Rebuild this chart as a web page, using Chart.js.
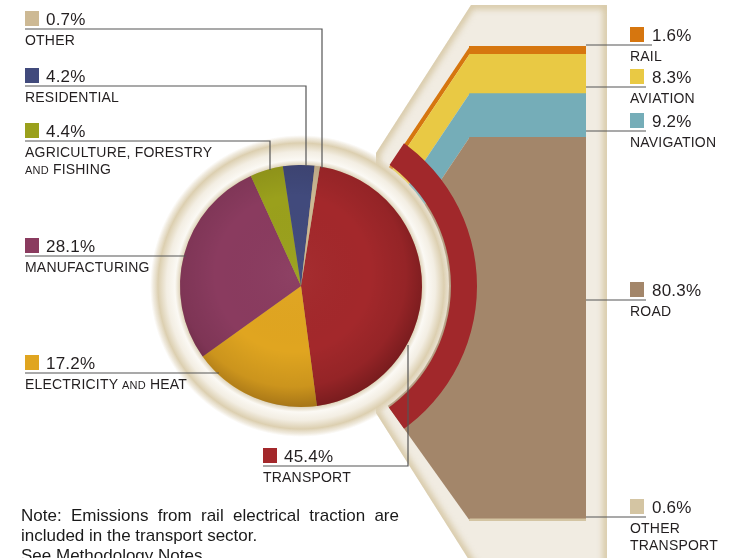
<!DOCTYPE html>
<html>
<head>
<meta charset="utf-8">
<script src="https://cdn.jsdelivr.net/npm/chart.js@4.4.0/dist/chart.umd.min.js"></script>
<style>
  body { margin: 0; background: #fff; }
  #wrap { position: relative; width: 733px; height: 558px; overflow: hidden; font-family: "Liberation Sans", Arial, sans-serif; color: #231f20; }
  canvas { position: absolute; left: 0; top: 0; }
  .lab { position: absolute; }
  .sw { position: absolute; left: 0; top: 0; width: 14px; height: 15px; }
  .pct { position: absolute; top: -0.5px; font-size: 17px; line-height: 17px; white-space: nowrap; letter-spacing: 0.2px; }
  .name { position: absolute; left: 0; top: 21px; font-size: 14px; line-height: 17px; white-space: nowrap; letter-spacing: 0.2px; }
  .name small { font-size: 11px; }
  .note { position: absolute; left: 21px; top: 506px; width: 378px; font-size: 17px; line-height: 20px; text-align: justify; color: #1a1a1a; }
</style>
</head>
<body>
<div id="wrap">
  <canvas id="bars" width="733" height="558"></canvas>
  <canvas id="pie" width="733" height="558"></canvas>
  <div id="labels"></div>
  <div class="note">Note: Emissions from rail electrical traction are included in the transport sector.<br>See Methodology Notes.</div>
</div>
<script>
// shares of CO2 emissions by sector, pie starts with transport and goes clockwise
const sectors = ['Transport', 'Electricity and heat', 'Manufacturing', 'Agriculture, forestry|and fishing', 'Residential', 'Other'];
const sectorShares = [45.4, 17.2, 28.1, 4.4, 4.2, 0.7];
const sectorColors = ['#a3282b', '#e0a520', '#8a3b5f', '#9aa01c', '#414a7c', '#cdb994'];

// breakdown of the transport sector, top to bottom
const transportModes = ['Rail', 'Aviation', 'Navigation', 'Road', 'Other|transport'];
const transportShares = [1.6, 8.3, 9.2, 80.3, 0.6];
const transportColors = ['#d6760f', '#e9c944', '#75adb8', '#a3866a', '#d4c5a3'];

// where things sit on the page
const PIE = { x: 301, y: 286, r: 121 };
const BAR = { left: 469, top: 46, right: 586, bottom: 521 };
const W = 733, H = 558;

// label layout: x, square top, leader line end x (or start x on the right), vertical end y
const sectorLabelPos = [
  { x: 263, t: 448, hx: 408, vy: 345 },
  { x: 25, t: 355, hx: 219 },
  { x: 25, t: 238, hx: 186 },
  { x: 25, t: 123, hx: 270, vy: 170 },
  { x: 25, t: 68, hx: 306, vy: 166 },
  { x: 25, t: 11, hx: 322, vy: 168 }
];
const modeLabelPos = [
  { x: 630, t: 27, lx: 652 },
  { x: 630, t: 69, lx: 646 },
  { x: 630, t: 113, lx: 646 },
  { x: 630, t: 282, lx: 646 },
  { x: 630, t: 499, lx: 646 }
];

function framePath(ctx, a) {
  ctx.beginPath();
  ctx.moveTo(a.left + 2, a.top - 41);
  ctx.lineTo(a.right + 21, a.top - 41);
  ctx.lineTo(a.right + 21, a.bottom + 80);
  ctx.lineTo(a.left + 26, a.bottom + 80);
  ctx.lineTo(a.left - 93, a.bottom - 108);
  ctx.lineTo(a.left - 93, a.top + 107);
  ctx.closePath();
}

function innerPath(ctx, a) {
  ctx.beginPath();
  ctx.moveTo(a.left, a.top);
  ctx.lineTo(a.right, a.top);
  ctx.lineTo(a.right, a.bottom);
  ctx.lineTo(a.left + 1, a.bottom);
  ctx.lineTo(a.left - 149, a.bottom - 210);
  ctx.lineTo(a.left - 149, a.top + 223);
  ctx.closePath();
}

// frame behind the transport bar + the slanted part of each band
const bandPlugin = {
  id: 'bands',
  beforeDatasetsDraw(chart) {
    const ctx = chart.ctx, a = chart.chartArea;
    ctx.save();
    framePath(ctx, a);
    ctx.fillStyle = '#f1ece2';
    ctx.fill();
    ctx.clip();
    ctx.filter = 'blur(3px)';
    framePath(ctx, a);
    ctx.lineWidth = 8;
    ctx.strokeStyle = '#d6c7a4';
    ctx.stroke();
    ctx.restore();
  },
  afterDatasetsDraw(chart) {
    const ctx = chart.ctx, a = chart.chartArea;
    ctx.save();
    innerPath(ctx, a);
    ctx.clip();
    ctx.beginPath();
    ctx.rect(0, 0, chart.width, chart.height);
    ctx.arc(PIE.x, PIE.y, 148, 0, Math.PI * 2);
    ctx.clip('evenodd');
    chart.data.datasets.forEach((ds, i) => {
      const bar = chart.getDatasetMeta(i).data[0];
      const top = Math.min(bar.y, bar.base), bot = Math.max(bar.y, bar.base);
      const left = bar.x - bar.width / 2;
      ctx.fillStyle = ds.backgroundColor;
      ctx.beginPath();
      ctx.moveTo(left + 1, top);
      ctx.lineTo(left - 200, top + 300);
      ctx.lineTo(left - 200, bot + 300);
      ctx.lineTo(left + 1, bot);
      ctx.closePath();
      ctx.fill();
    });
    ctx.restore();
  }
};

new Chart(document.getElementById('bars'), {
  type: 'bar',
  data: {
    labels: ['Transport'],
    datasets: transportModes.map((m, i) => ({
      label: m.replace('|', ' '),
      data: [transportShares[i]],
      backgroundColor: transportColors[i],
      borderWidth: 0,
      barPercentage: 1,
      categoryPercentage: 1
    }))
  },
  options: {
    responsive: false,
    devicePixelRatio: 1,
    animation: false,
    events: [],
    layout: { padding: { left: BAR.left, top: BAR.top, right: W - BAR.right, bottom: H - BAR.bottom } },
    scales: {
      x: { display: false, stacked: true },
      y: { display: false, stacked: true, min: 0, max: 100, reverse: true }
    },
    plugins: { legend: { display: false }, tooltip: { enabled: false } }
  },
  plugins: [bandPlugin]
});

// halo round the pie, shading on the slices, clip of the transport arc, leader lines
const piePlugin = {
  id: 'pieDeco',
  beforeDatasetsDraw(chart) {
    const ctx = chart.ctx;
    const arc = chart.getDatasetMeta(2).data[0];
    const cx = arc.x, cy = arc.y, r = arc.outerRadius;
    const g = ctx.createRadialGradient(cx, cy, r - 2, cx, cy, r + 30);
    g.addColorStop(0, '#a8966e');
    g.addColorStop(0.08, '#e2d8c1');
    g.addColorStop(0.22, '#fbf9f4');
    g.addColorStop(0.48, '#f3eee3');
    g.addColorStop(0.75, '#dccfb0');
    g.addColorStop(0.9, 'rgba(225,214,190,0.5)');
    g.addColorStop(1, 'rgba(230,220,200,0)');
    ctx.save();
    ctx.fillStyle = g;
    ctx.beginPath();
    ctx.arc(cx, cy, r + 30, 0, Math.PI * 2);
    ctx.fill();
    ctx.restore();
  },
  beforeDatasetDraw(chart, args) {
    if (args.index === 0) {
      chart.ctx.save();
      innerPath(chart.ctx, BAR);
      chart.ctx.clip();
    }
  },
  afterDatasetDraw(chart, args) {
    const ctx = chart.ctx;
    if (args.index === 0) ctx.restore();
    if (args.index === 2) {
      const arc = chart.getDatasetMeta(2).data[0];
      const cx = arc.x, cy = arc.y, r = arc.outerRadius;
      const gx = cx - 8, gy = cy - 12;
      const g = ctx.createRadialGradient(gx, gy, 0, gx, gy, r + 20);
      g.addColorStop(0, 'rgba(255,255,255,0.03)');
      g.addColorStop(0.55, 'rgba(0,0,0,0)');
      g.addColorStop(0.8, 'rgba(25,0,0,0.1)');
      g.addColorStop(1, 'rgba(25,0,0,0.36)');
      ctx.save();
      ctx.beginPath();
      ctx.arc(cx, cy, r, 0, Math.PI * 2);
      ctx.fillStyle = g;
      ctx.fill();
      ctx.restore();
    }
  },
  afterDraw(chart) {
    const ctx = chart.ctx;
    ctx.save();
    ctx.strokeStyle = '#555';
    ctx.lineWidth = 1.2;
    sectorLabelPos.forEach(p => {
      const ly = p.t + 18;
      ctx.beginPath();
      ctx.moveTo(p.x, ly);
      ctx.lineTo(p.hx, ly);
      if (p.vy) ctx.lineTo(p.hx, p.vy);
      ctx.stroke();
    });
    modeLabelPos.forEach(p => {
      const ly = p.t + 18;
      ctx.beginPath();
      ctx.moveTo(BAR.right, ly);
      ctx.lineTo(p.lx, ly);
      ctx.stroke();
    });
    ctx.restore();
  }
};

const R_OUT = 176;
new Chart(document.getElementById('pie'), {
  type: 'doughnut',
  data: {
    labels: sectors.map(s => s.replace('|', ' ')),
    datasets: [
      // transport slice pulled out as an arc next to the breakdown
      { data: [sectorShares[0]], backgroundColor: ['#a1282b'], borderWidth: 0, weight: R_OUT - 150, rotation: 30, circumference: 120 },
      { data: [1], backgroundColor: ['rgba(0,0,0,0)'], borderWidth: 0, weight: 150 - PIE.r },
      { data: sectorShares, backgroundColor: sectorColors, borderWidth: 0, weight: PIE.r, rotation: 9 }
    ]
  },
  options: {
    responsive: false,
    devicePixelRatio: 1,
    animation: false,
    events: [],
    cutout: 0,
    rotation: 9,
    hoverOffset: 0,
    layout: { padding: { left: PIE.x - R_OUT, top: PIE.y - R_OUT, right: W - PIE.x - R_OUT, bottom: H - PIE.y - R_OUT } },
    plugins: { legend: { display: false }, tooltip: { enabled: false } }
  },
  plugins: [piePlugin]
});

// html labels
function nameHtml(s) {
  return s.split('|').map(line => line.split(' ').map(w =>
    w === 'and' ? '<small>AND</small>' : w.toUpperCase()).join(' ')).join('<br>');
}
function addLabel(p, color, pct, name, off) {
  const d = document.createElement('div');
  d.className = 'lab';
  d.style.left = p.x + 'px';
  d.style.top = p.t + 'px';
  d.innerHTML = '<div class="sw" style="background:' + color + '"></div>' +
    '<div class="pct" style="left:' + off + 'px">' + pct.toFixed(1) + '%</div>' +
    '<div class="name">' + nameHtml(name) + '</div>';
  document.getElementById('labels').appendChild(d);
}
sectors.forEach((s, i) => addLabel(sectorLabelPos[i], sectorColors[i], sectorShares[i], s, 21));
transportModes.forEach((m, i) => addLabel(modeLabelPos[i], transportColors[i], transportShares[i], m, 22));
</script>
</body>
</html>
